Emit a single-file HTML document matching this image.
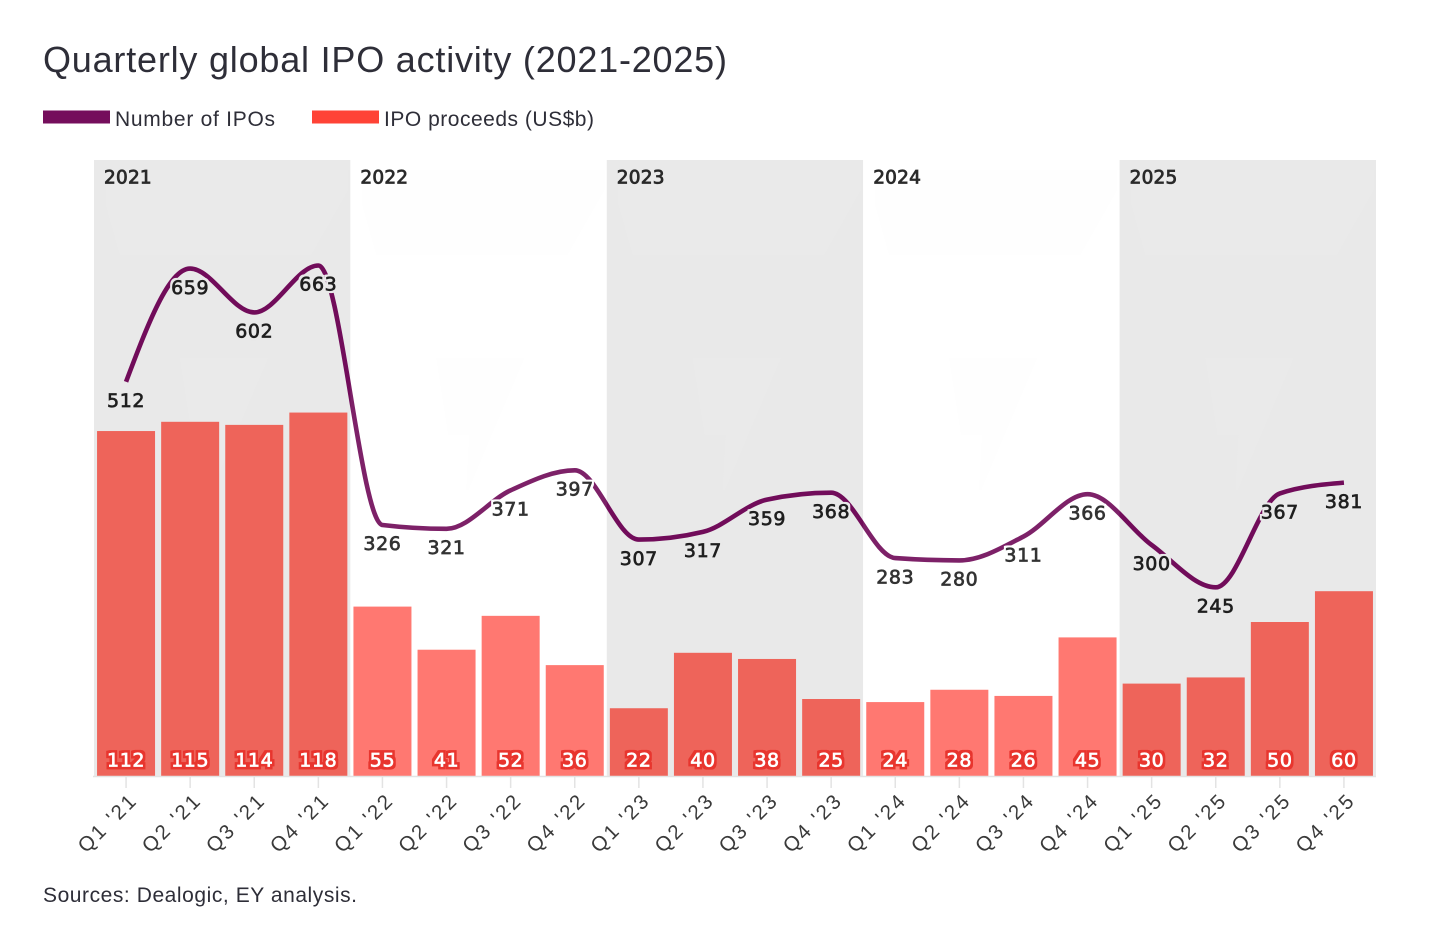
<!DOCTYPE html>
<html lang="en">
<head>
<meta charset="utf-8">
<title>Quarterly global IPO activity (2021-2025)</title>
<style>
  html,body{margin:0;padding:0;background:#fff;}
  svg{display:block;}
  text{font-family:"Liberation Sans",sans-serif;}
  .num{font-family:"DejaVu Sans","Liberation Sans",sans-serif;letter-spacing:.6px;}
</style>
</head>
<body>
<svg id="chart" xmlns="http://www.w3.org/2000/svg" width="1456" height="940" viewBox="0 0 1456 940">
  <defs>
    <filter id="halo-gray" x="-30%" y="-50%" width="160%" height="200%" color-interpolation-filters="sRGB">
      <feMorphology in="SourceAlpha" operator="dilate" radius="1.8" result="d"/>
      <feFlood flood-color="#e9e9e9"/>
      <feComposite in2="d" operator="in" result="h"/>
      <feMerge><feMergeNode in="h"/><feMergeNode in="SourceGraphic"/></feMerge>
    </filter>
    <filter id="halo-white" x="-30%" y="-50%" width="160%" height="200%" color-interpolation-filters="sRGB">
      <feMorphology in="SourceAlpha" operator="dilate" radius="1.8" result="d"/>
      <feFlood flood-color="#ffffff"/>
      <feComposite in2="d" operator="in" result="h"/>
      <feMerge><feMergeNode in="h"/><feMergeNode in="SourceGraphic"/></feMerge>
    </filter>
    <filter id="halo-red" x="-30%" y="-50%" width="160%" height="200%" color-interpolation-filters="sRGB">
      <feMorphology in="SourceAlpha" operator="dilate" radius="2.6" result="d"/>
      <feFlood flood-color="#e8352e"/>
      <feComposite in2="d" operator="in" result="h"/>
      <feMerge><feMergeNode in="h"/><feMergeNode in="SourceGraphic"/></feMerge>
    </filter>
  </defs>

  <text x="43" y="72" font-size="36" fill="#2e2e38" textLength="684" lengthAdjust="spacing">Quarterly global IPO activity (2021-2025)</text>

  <g>
    <g>
      <rect x="43" y="110.5" width="67" height="13" fill="#750e5c"/>
      <text x="115" y="126" font-size="21" fill="#2e2e38" textLength="160" lengthAdjust="spacing">Number of IPOs</text>
    </g>
    <g>
      <rect x="312" y="110.5" width="67" height="13" fill="#ff4336"/>
      <text x="384" y="126" font-size="21" fill="#2e2e38" textLength="210" lengthAdjust="spacing">IPO proceeds (US$b)</text>
    </g>
  </g>

  <g id="bands"></g>
  <g id="bars"></g>
  <path id="line" fill="none" stroke="#710c5a" stroke-width="4.6" stroke-linejoin="round"/>
  <g id="line-labels"></g>
  <g id="overlays"></g>
  <g id="bar-labels"></g>
  <g id="year-labels"></g>
  <g id="x-axis"></g>

  <text x="43" y="902" font-size="21" fill="#2e2e38" textLength="314" lengthAdjust="spacing">Sources: Dealogic, EY analysis.</text>
</svg>

<script>
const quarters = ["Q1 '21","Q2 '21","Q3 '21","Q4 '21","Q1 '22","Q2 '22","Q3 '22","Q4 '22","Q1 '23","Q2 '23","Q3 '23","Q4 '23","Q1 '24","Q2 '24","Q3 '24","Q4 '24","Q1 '25","Q2 '25","Q3 '25","Q4 '25"];
const ipoCounts = [512,659,602,663,326,321,371,397,307,317,359,368,283,280,311,366,300,245,367,381];
const proceeds = [112,115,114,118,55,41,52,36,22,40,38,25,24,28,26,45,30,32,50,60];
const years = ["2021","2022","2023","2024","2025"];

const NS = 'http://www.w3.org/2000/svg';
const plotLeft = 94, plotRight = 1376, plotTop = 160, plotBottom = 776;
const quartersPerYear = 4;
const step = (plotRight - plotLeft) / quarters.length;
const xScale = i => plotLeft + step * (i + 0.5);
const yBar = v => plotBottom - v * 3.08;
const yLine = v => plotBottom - v * 0.77;
const isGrayYear = y => y % 2 === 0;
const yearOf = i => Math.floor(i / quartersPerYear);

function make(tag, attrs, parent, txt) {
  const el = document.createElementNS(NS, tag);
  for (const k in attrs) el.setAttribute(k, attrs[k]);
  if (txt !== undefined) el.textContent = txt;
  parent.appendChild(el);
  return el;
}

const bandsG = document.getElementById('bands');
const overlaysG = document.getElementById('overlays');
const yearLabelsG = document.getElementById('year-labels');
years.forEach((yr, y) => {
  const bx = plotLeft + y * step * quartersPerYear;
  const bw = step * quartersPerYear;
  const band = make('rect', {x: bx, y: plotTop, width: bw, height: plotBottom - plotTop, fill: isGrayYear(y) ? '#e9e9e9' : '#ffffff'}, bandsG);
  
  
  const wm = isGrayYear(y) ? '#eaeaea' : '#fefefe';
  const mark1 = make('polygon', {points: [[12,205],[26,255],[217,255],[254,190],[254,170],[12,170]].map(p => (bx + p[0]) + ',' + (p[1])).join(' '), fill: wm}, bandsG);
  
  
  const mark2 = make('polygon', {points: [[86,358],[174,358],[139,440],[118,490],[116,490],[119,435],[98,435]].map(p => (bx + p[0]) + ',' + (p[1])).join(' '), fill: wm}, bandsG);
  
  
  if (!isGrayYear(y)) {
    const ov = make('rect', {x: bx, y: plotTop, width: bw, height: plotBottom - plotTop, fill: '#ffffff', opacity: 0.09}, overlaysG);
    
    
  }
  const yl = make('text', {x: bx + 10, y: 183.5, 'font-size': 18.5, 'font-weight': 400, fill: '#2a2a2a', stroke: '#2a2a2a', 'stroke-width': 0.8, style: 'font-family:"DejaVu Sans",sans-serif;letter-spacing:.2px'}, yearLabelsG, yr);
  
  
});

const barsG = document.getElementById('bars');
const barLabelsG = document.getElementById('bar-labels');
const barWidth = 58;
proceeds.forEach((v, i) => {
  const gray = isGrayYear(yearOf(i));
  const bar = make('rect', {x: xScale(i) - barWidth / 2, y: yBar(v), width: barWidth, height: plotBottom - yBar(v), fill: gray ? '#ee645a' : '#ff6b63'}, barsG);
  
  
  const lbl = make('text', {x: xScale(i), y: 766.5, 'text-anchor': 'middle', 'font-size': 19, class: 'num', fill: '#ffffff', stroke: '#ffffff', 'stroke-width': 0.7, filter: 'url(#halo-red)'}, barLabelsG, String(v));
  
  
});

// Monotone cubic path through the IPO counts
function monotonePath(xs, ys) {
  const n = xs.length, d = [], m = [];
  for (let i = 0; i < n - 1; i++) d.push((ys[i + 1] - ys[i]) / (xs[i + 1] - xs[i]));
  for (let i = 1; i < n - 1; i++) {
    if (d[i - 1] * d[i] <= 0) { m[i] = 0; continue; }
    const p = (d[i - 1] + d[i]) / 2;
    m[i] = Math.sign(d[i]) * Math.min(Math.abs(d[i - 1]), Math.abs(d[i]), Math.abs(p) / 2) * 2;
  }
  m[0] = (3 * d[0] - m[1]) / 2;
  m[n - 1] = (3 * d[n - 2] - m[n - 2]) / 2;
  let s = 'M' + xs[0] + ',' + ys[0];
  for (let i = 0; i < n - 1; i++) {
    const h = (xs[i + 1] - xs[i]) / 3;
    s += 'C' + (xs[i] + h) + ',' + (ys[i] + m[i] * h) + ' ' + (xs[i + 1] - h) + ',' + (ys[i + 1] - m[i + 1] * h) + ' ' + xs[i + 1] + ',' + ys[i + 1];
  }
  return s;
}
document.getElementById('line').setAttribute('d', monotonePath(ipoCounts.map((_, i) => xScale(i)), ipoCounts.map(yLine)));

const lineLabelsG = document.getElementById('line-labels');
ipoCounts.forEach((v, i) => {
  const gray = isGrayYear(yearOf(i));
  const lbl = make('text', {x: xScale(i), y: yLine(v) + 25.2, 'text-anchor': 'middle', 'font-size': 19, class: 'num', fill: '#1f1f1f', stroke: '#1f1f1f', 'stroke-width': 0.7, filter: gray ? 'url(#halo-gray)' : 'url(#halo-white)'}, lineLabelsG, String(v));
  
  
});

const axisG = document.getElementById('x-axis');
const axisLine = make('line', {x1: plotLeft - 1, x2: plotRight, y1: plotBottom + 0.5, y2: plotBottom + 0.5, stroke: '#e3e3e3', 'stroke-width': 1.5}, axisG);


quarters.forEach((q, i) => {
  const x = xScale(i);
  const tick = make('line', {x1: x, x2: x, y1: plotBottom + 1, y2: 788, stroke: '#e3e3e3', 'stroke-width': 1.5}, axisG);
  
  
  const tx = x + 11, ty = 803;
  const lab = make('text', {x: tx, y: ty, 'text-anchor': 'end', 'font-size': 20.5, fill: '#3a3a3a', transform: 'rotate(-45 ' + tx + ' ' + ty + ')', textLength: 72, lengthAdjust: 'spacing'}, axisG, q);
  
  
});
</script>
</body>
</html>
